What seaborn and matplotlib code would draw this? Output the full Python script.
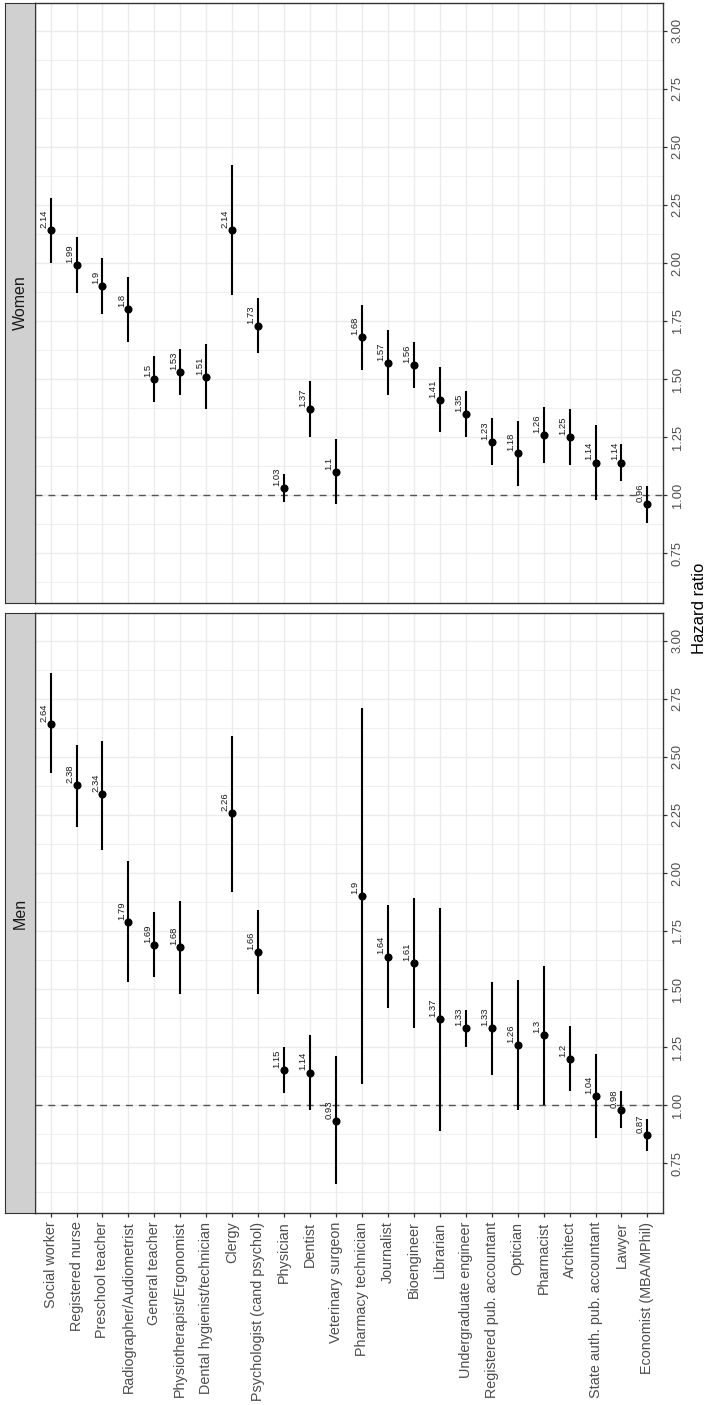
import numpy as np
import pandas as pd
import matplotlib
matplotlib.use("Agg")
import matplotlib.pyplot as plt
from matplotlib.ticker import MultipleLocator
import seaborn as sns

# Occupations in display order
occupations = [
    "Social worker", "Registered nurse", "Preschool teacher",
    "Radiographer/Audiometrist", "General teacher", "Physiotherapist/Ergonomist",
    "Dental hygienist/technician", "Clergy", "Psychologist (cand psychol)",
    "Physician", "Dentist", "Veterinary surgeon", "Pharmacy technician",
    "Journalist", "Bioengineer", "Librarian", "Undergraduate engineer",
    "Registered pub. accountant", "Optician", "Pharmacist", "Architect",
    "State auth. pub. accountant", "Lawyer", "Economist (MBA/MPhil)",
]

# Hazard ratios with 95% confidence limits
men_hr = [2.64, 2.38, 2.34, 1.79, 1.69, 1.68, np.nan, 2.26, 1.66, 1.15, 1.14, 0.93,
          1.90, 1.64, 1.61, 1.37, 1.33, 1.33, 1.26, 1.30, 1.20, 1.04, 0.98, 0.87]
men_lo = [2.43, 2.20, 2.10, 1.53, 1.55, 1.48, np.nan, 1.92, 1.48, 1.05, 0.98, 0.66,
          1.09, 1.42, 1.33, 0.89, 1.25, 1.13, 0.98, 1.00, 1.06, 0.86, 0.90, 0.80]
men_hi = [2.86, 2.55, 2.57, 2.05, 1.83, 1.88, np.nan, 2.59, 1.84, 1.25, 1.30, 1.21,
          2.71, 1.86, 1.89, 1.85, 1.41, 1.53, 1.54, 1.60, 1.34, 1.22, 1.06, 0.94]

women_hr = [2.14, 1.99, 1.90, 1.80, 1.50, 1.53, 1.51, 2.14, 1.73, 1.03, 1.37, 1.10,
            1.68, 1.57, 1.56, 1.41, 1.35, 1.23, 1.18, 1.26, 1.25, 1.14, 1.14, 0.96]
women_lo = [2.00, 1.87, 1.78, 1.66, 1.40, 1.43, 1.37, 1.86, 1.61, 0.97, 1.25, 0.96,
            1.54, 1.43, 1.46, 1.27, 1.25, 1.13, 1.04, 1.14, 1.13, 0.98, 1.06, 0.88]
women_hi = [2.28, 2.11, 2.02, 1.94, 1.60, 1.63, 1.65, 2.42, 1.85, 1.09, 1.49, 1.24,
            1.82, 1.71, 1.66, 1.55, 1.45, 1.33, 1.32, 1.38, 1.37, 1.30, 1.22, 1.04]

hr_ticks = [0.75, 1.00, 1.25, 1.50, 1.75, 2.00, 2.25, 2.50, 2.75, 3.00]
panel_names = ["Women", "Men"]

frames = []
for sex, hr, lo, hi in [("Women", women_hr, women_lo, women_hi),
                        ("Men", men_hr, men_lo, men_hi)]:
    frames.append(pd.DataFrame({
        "sex": sex, "occupation": occupations, "pos": np.arange(len(occupations)),
        "hr": hr, "lo": lo, "hi": hi,
    }))
df = pd.concat(frames, ignore_index=True)

sns.set_theme(style="white")
plt.rcParams["font.family"] = ["Liberation Sans", "DejaVu Sans"]

W, H = 705, 1405
fig = plt.figure(figsize=(W / 100, H / 100), dpi=100)


def rect(x0, y0, x1, y1):
    return [x0 / W, 1 - y1 / H, (x1 - x0) / W, (y1 - y0) / H]


border = "#333333"
grid = "#ebebeb"
tick_txt = "#4d4d4d"
panel_rows = {"Women": (3, 603), "Men": (613, 1213)}

for name in panel_names:
    y0, y1 = panel_rows[name]
    ax = fig.add_axes(rect(35, y0, 663, y1))
    sax = fig.add_axes(rect(5, y0, 35, y1))
    sub = df[df["sex"] == name].dropna(subset=["hr"])

    ax.set_xlim(-0.6, len(occupations) - 0.4)
    ax.set_ylim(0.535, 3.12)
    ax.set_axisbelow(True)

    ax.set_xticks(np.arange(len(occupations)))
    ax.set_yticks(hr_ticks)
    ax.yaxis.set_minor_locator(MultipleLocator(0.125))
    ax.grid(which="major", color=grid, lw=1.0)
    ax.grid(which="minor", axis="y", color=grid, lw=0.55)

    ax.axhline(1.0, color="#555555", lw=1.0, ls=(0, (5, 4.3)), zorder=2)

    ax.vlines(sub["pos"], sub["lo"], sub["hi"], color="black", lw=1.5, zorder=3)
    sns.scatterplot(data=sub, x="pos", y="hr", ax=ax, color="black", s=34,
                    linewidth=0, zorder=4, legend=False)

    for _, r in sub.iterrows():
        ax.annotate(f"{r['hr']:g}", (r["pos"], r["hr"]), xytext=(-3.2, 1.5),
                    textcoords="offset points", rotation=90, rotation_mode="anchor",
                    ha="left", va="baseline", fontsize=6.8, color="#1a1a1a", zorder=5)

    ax.set_xlabel("")
    ax.set_ylabel("")
    ax.yaxis.tick_right()
    ax.set_yticklabels([f"{v:.2f}" for v in hr_ticks], rotation=90, va="center")
    ax.tick_params(axis="y", which="major", right=True, left=False, length=3.2,
                   width=0.9, color=border, pad=3, labelsize=9.3, labelcolor=tick_txt)
    ax.tick_params(axis="y", which="minor", length=0)

    if name == "Men":
        ax.set_xticklabels(occupations, rotation=90)
        ax.tick_params(axis="x", bottom=True, length=3.2, width=0.9, color=border,
                       pad=3, labelsize=10.4, labelcolor=tick_txt)
    else:
        ax.tick_params(axis="x", bottom=False, labelbottom=False)

    for sp in ax.spines.values():
        sp.set_color(border)
        sp.set_linewidth(1.0)
        sp.set_visible(True)

    sax.set_facecolor("#d0d0d0")
    sax.set_xticks([])
    sax.set_yticks([])
    for sp in sax.spines.values():
        sp.set_color(border)
        sp.set_linewidth(0.8)
        sp.set_visible(True)
    sax.text(0.5, 0.5, name, rotation=90, ha="center", va="center",
             fontsize=11.5, color="#1a1a1a", transform=sax.transAxes)

fig.text(699 / W, 1 - 608 / H, "Hazard ratio", rotation=90, ha="center",
         va="center", fontsize=12, color="black")

fig.savefig("out.png", dpi=100, facecolor="white")
